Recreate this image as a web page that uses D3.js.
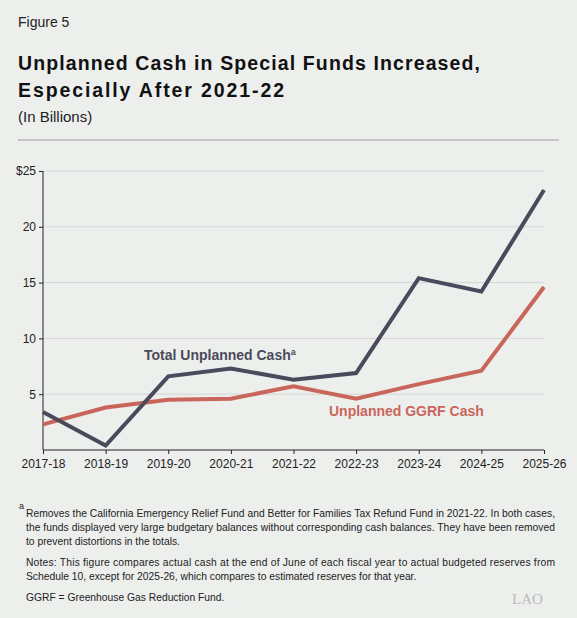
<!DOCTYPE html>
<html><head><meta charset="utf-8">
<script src="https://cdn.jsdelivr.net/npm/d3@7"></script>
<style>body{margin:0;background:#edefed;}svg{font-family:"Liberation Sans",Arial,sans-serif;}</style>
</head><body><svg id="c" width="577" height="618"></svg>
<script>
var years = ["2017-18","2018-19","2019-20","2020-21","2021-22","2022-23","2023-24","2024-25","2025-26"];
var totalCash = [3.4, 0.4, 6.6, 7.3, 6.3, 6.9, 15.4, 14.2, 23.3];
var ggrfCash = [2.3, 3.8, 4.5, 4.6, 5.7, 4.6, 5.9, 7.1, 14.6];
var yTicks = [5, 10, 15, 20, 25];

var svg = d3.select("#c");
svg.append("rect").attr("width",577).attr("height",618).attr("fill","#edefed");
svg.append("text").attr("x",18).attr("y",27).attr("font-size",14).attr("fill","#222").text("Figure 5");
svg.append("text").attr("x",18).attr("y",70).attr("font-size",19.5).attr("font-weight","bold").attr("fill","#111").attr("textLength",462).text("Unplanned Cash in Special Funds Increased,");
svg.append("text").attr("x",18).attr("y",97).attr("font-size",19.5).attr("font-weight","bold").attr("fill","#111").attr("textLength",266).text("Especially After 2021-22");
svg.append("text").attr("x",18).attr("y",122).attr("font-size",15).attr("fill","#222").text("(In Billions)");
svg.append("line").attr("x1",18).attr("x2",559).attr("y1",140).attr("y2",140).attr("stroke","#999");

var x = d3.scalePoint().domain(years).range([43,544]);
var y = d3.scaleLinear().domain([0,25]).range([450,171]);
var g = svg.append("g");
g.selectAll(".grid").data(yTicks).enter().append("line")
  .attr("x1",43).attr("x2",544).attr("y1",d=>y(d)).attr("y2",d=>y(d)).attr("stroke","#d4d6d6");
var ya = g.append("g").attr("transform","translate(43,0)")
  .call(d3.axisLeft(y).tickValues(yTicks).tickSize(4).tickFormat(d=>d==25?"$25":d));
var xa = g.append("g").attr("transform","translate(0,450)").call(d3.axisBottom(x).tickSize(4).tickPadding(5));
[ya,xa].forEach(a=>{a.selectAll("text").attr("font-size",12).attr("fill","#222").style("font-family","Liberation Sans, Arial");a.selectAll("line,path").attr("stroke","#222");});
xa.select(".domain").attr("d","M43,0H544");
ya.select(".domain").attr("d","M0,171V450");

var line = d3.line().x((d,i)=>x(years[i])).y(d=>y(d));
g.append("path").datum(ggrfCash).attr("d",line).attr("fill","none").attr("stroke","#c9665b").attr("stroke-width",4);
g.append("path").datum(totalCash).attr("d",line).attr("fill","none").attr("stroke","#4a4a5c").attr("stroke-width",4);

var t1 = svg.append("text").attr("x",144).attr("y",360).attr("font-size",14).attr("font-weight","bold").attr("fill","#4a4a5c").text("Total Unplanned Cash");
t1.append("tspan").attr("font-size",9).attr("dy",-5).text("a");
svg.append("text").attr("x",329).attr("y",416).attr("font-size",14).attr("font-weight","bold").attr("fill","#c9665b").text("Unplanned GGRF Cash");

var notes = [
 [26,517,"Removes the California Emergency Relief Fund and Better for Families Tax Refund Fund in 2021-22. In both cases,",true],
 [26,531,"the funds displayed very large budgetary balances without corresponding cash balances. They have been removed",true],
 [26,545,"to prevent distortions in the totals.",false],
 [26,566,"Notes: This figure compares actual cash at the end of June of each fiscal year to actual budgeted reserves from",true],
 [26,580,"Schedule 10, except for 2025-26, which compares to estimated reserves for that year.",false],
 [26,601,"GGRF = Greenhouse Gas Reduction Fund.",false]];
svg.selectAll(".n").data(notes).enter().append("text").attr("x",d=>d[0]).attr("y",d=>d[1])
  .attr("font-size",10.3).attr("fill","#222").attr("textLength",d=>d[3]?529:null).text(d=>d[2]);
svg.append("text").attr("x",19).attr("y",509).attr("font-size",9).attr("fill","#222").text("a");
svg.append("text").attr("x",512).attr("y",604).attr("font-size",15).attr("font-family","Liberation Serif").attr("fill","#bbb").text("LAO");
</script></body></html>
